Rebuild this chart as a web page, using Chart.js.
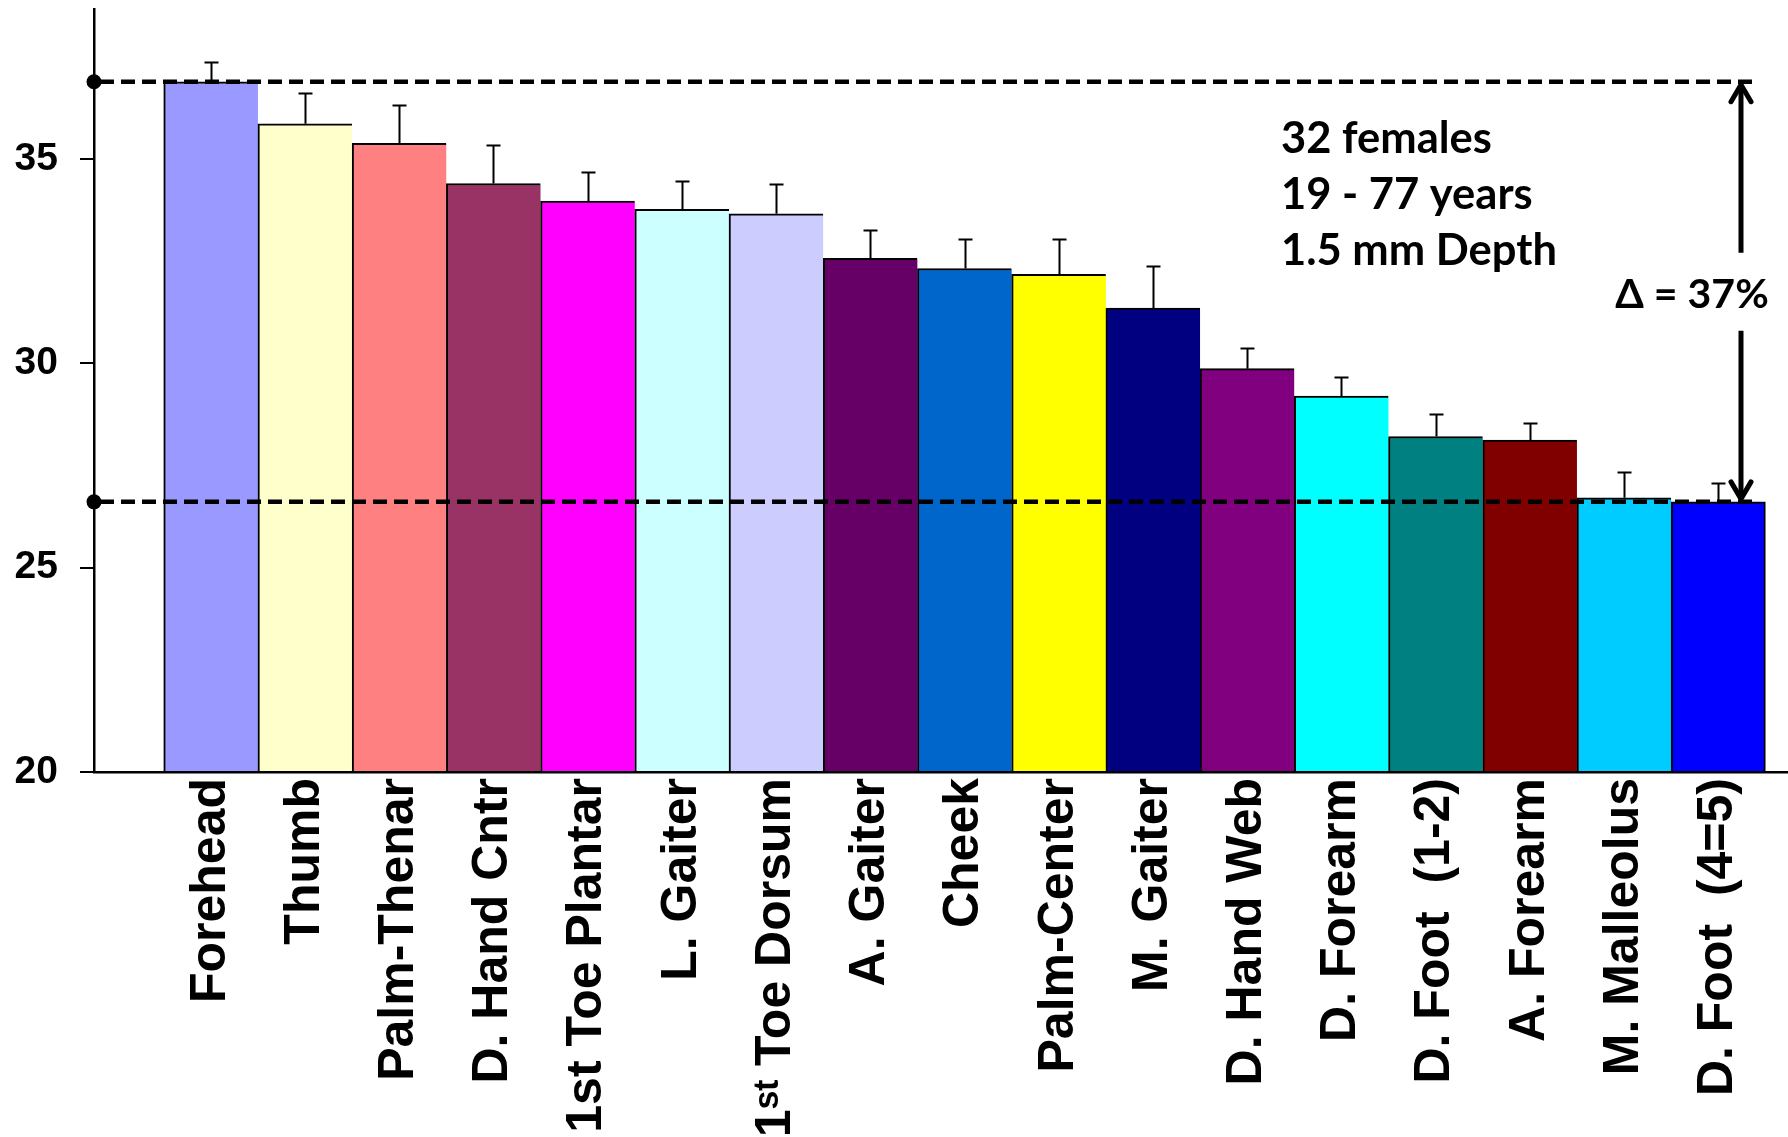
<!DOCTYPE html>
<html>
<head>
<meta charset="utf-8">
<script src="https://cdn.jsdelivr.net/npm/chart.js@4.4.1/dist/chart.umd.min.js"></script>
<style>
  html, body { margin: 0; padding: 0; background: #fff; overflow: hidden; }
  canvas { display: block; }
</style>
</head>
<body>
<canvas id="c" width="1788" height="1137"></canvas>
<script>
// Measurement sites, sorted from highest to lowest mean value
const sites = [
  'Forehead', 'Thumb', 'Palm-Thenar', 'D. Hand Cntr', '1st Toe Plantar',
  'L. Gaiter', '1\u02E2\u1D57 Toe Dorsum', 'A. Gaiter', 'Cheek', 'Palm-Center',
  'M. Gaiter', 'D. Hand Web', 'D. Forearm', 'D. Foot  (1-2)', 'A. Forearm',
  'M. Malleolus', 'D. Foot  (4=5)'
];
// Mean value per site
const meanValues = [
  36.89, 35.86, 35.38, 34.40, 33.97, 33.77, 33.66, 32.57, 32.32, 32.18,
  31.35, 29.87, 29.20, 28.21, 28.12, 26.71, 26.61
];
// Upper error (SEM) per site
const errorValues = [
  0.48, 0.76, 0.95, 0.93, 0.70, 0.70, 0.72, 0.70, 0.73, 0.87,
  1.03, 0.51, 0.47, 0.56, 0.41, 0.64, 0.46
];
const barColors = [
  '#9999FF', '#FFFFCC', '#FF8080', '#993366', '#FF00FF',
  '#CCFFFF', '#CCCCFF', '#660066', '#0066CC', '#FFFF00',
  '#000080', '#800080', '#00FFFF', '#008080', '#800000',
  '#00CCFF', '#0000FF'
];
const yTicks = [20, 25, 30, 35];
// Highest and lowest site means, marked with dashed reference lines
const rangeLevels = [36.89, 26.61];
const noteLines = ['32 females', '19 - 77 years', '1.5 mm Depth'];
const deltaLabel = '\u0394 = 37%';

// Axis extents (index axis includes room left of the first bar)
const X_MIN = -1.24, X_MAX = 16.74;
const Y_MIN = 20, Y_MAX = 38.67;

const labelFont = '"Liberation Sans", Arial, "DejaVu Sans", sans-serif';
const noteFont = 'Lato, "Open Sans", "DejaVu Sans", sans-serif';

function noPadding(s) {
  s.paddingLeft = 0; s.paddingRight = 0; s.paddingTop = 0; s.paddingBottom = 0;
}

// Upper-only error whiskers with caps
const errorBars = {
  id: 'errorBars',
  afterDatasetsDraw(chart) {
    const { ctx, scales: { x, y } } = chart;
    ctx.save();
    ctx.strokeStyle = '#000';
    ctx.lineWidth = 2;
    meanValues.forEach((v, i) => {
      const px = Math.round(x.getPixelForValue(i)) + 0.5;
      const y0 = y.getPixelForValue(v);
      const y1 = Math.round(y.getPixelForValue(v + errorValues[i])) + 0.5;
      ctx.beginPath();
      ctx.moveTo(px, y0);
      ctx.lineTo(px, y1);
      ctx.moveTo(px - 7, y1);
      ctx.lineTo(px + 7, y1);
      ctx.stroke();
    });
    ctx.restore();
  }
};

// Dashed range lines, double arrow, and text notes
const rangeMarks = {
  id: 'rangeMarks',
  afterDatasetsDraw(chart) {
    const { ctx, chartArea, scales: { y } } = chart;
    const left = chartArea.left;
    const lineEnd = chartArea.right - 33;
    const arrowX = chartArea.right - 47;
    const yTop = y.getPixelForValue(rangeLevels[0]);
    const yBot = y.getPixelForValue(rangeLevels[1]);
    const mid = (yTop + yBot) / 2;

    ctx.save();
    ctx.strokeStyle = '#000';
    ctx.fillStyle = '#000';

    // dashed lines
    ctx.lineWidth = 4.5;
    ctx.setLineDash([14, 7]);
    [yTop, yBot].forEach(py => {
      ctx.beginPath();
      ctx.moveTo(left + 6, py);
      ctx.lineTo(lineEnd, py);
      ctx.stroke();
    });
    ctx.setLineDash([]);

    // dots on the value axis
    [yTop, yBot].forEach(py => {
      ctx.beginPath();
      ctx.arc(left, py, 7.5, 0, Math.PI * 2);
      ctx.fill();
    });

    // double arrow with a gap for the label
    ctx.lineWidth = 5;
    ctx.lineCap = 'butt';
    ctx.beginPath();
    ctx.moveTo(arrowX, yTop + 3);
    ctx.lineTo(arrowX, mid - 39);
    ctx.moveTo(arrowX, mid + 39);
    ctx.lineTo(arrowX, yBot - 3);
    ctx.stroke();
    ctx.lineCap = 'round';
    ctx.lineJoin = 'round';
    ctx.beginPath();
    ctx.moveTo(arrowX - 10, yTop + 20);
    ctx.lineTo(arrowX, yTop + 3);
    ctx.lineTo(arrowX + 10, yTop + 20);
    ctx.moveTo(arrowX - 10, yBot - 20);
    ctx.lineTo(arrowX, yBot - 3);
    ctx.lineTo(arrowX + 10, yBot - 20);
    ctx.stroke();

    // delta label
    ctx.font = 'bold 41px ' + noteFont;
    ctx.textAlign = 'center';
    ctx.textBaseline = 'alphabetic';
    ctx.fillText(deltaLabel, arrowX - 49, mid + 16);

    // sample notes
    ctx.font = 'bold 43.5px ' + noteFont;
    ctx.textAlign = 'left';
    noteLines.forEach((t, i) => {
      ctx.fillText(t, 1281, 153 + i * 56);
    });
    ctx.restore();
  }
};

new Chart(document.getElementById('c'), {
  type: 'bar',
  data: {
    datasets: [{
      data: meanValues.map((v, i) => ({ x: i, y: v })),
      backgroundColor: barColors,
      borderColor: '#000',
      borderWidth: (c) => ({
        top: 2, left: 2, bottom: 0,
        right: c.dataIndex === meanValues.length - 1 ? 2 : 0
      }),
      borderSkipped: false,
      categoryPercentage: 1,
      barPercentage: 1
    }]
  },
  options: {
    responsive: false,
    animation: false,
    devicePixelRatio: 1,
    layout: { padding: { top: 9, left: 0, right: 0, bottom: 0 } },
    plugins: { legend: { display: false }, tooltip: { enabled: false } },
    scales: {
      x: {
        type: 'linear',
        offset: false,
        min: X_MIN,
        max: X_MAX,
        afterBuildTicks: (s) => { s.ticks = sites.map((_, i) => ({ value: i })); },
        afterFit: (s) => { s.height = 365; noPadding(s); },
        grid: { display: false, drawTicks: false, offset: false },
        border: { display: true, color: '#000', width: 2.5, z: 1 },
        ticks: {
          autoSkip: false,
          minRotation: 90,
          maxRotation: 90,
          padding: 6,
          color: '#000',
          font: { family: labelFont, weight: 'bold', size: 50 },
          callback: (v) => sites[v]
        }
      },
      y: {
        min: Y_MIN,
        max: Y_MAX,
        afterBuildTicks: (s) => { s.ticks = yTicks.map(v => ({ value: v })); },
        afterFit: (s) => { s.width = 94; noPadding(s); },
        grid: { display: true, drawOnChartArea: false, drawTicks: true, tickLength: 14, color: '#000', lineWidth: 2 },
        border: { display: true, color: '#000', width: 2.5, z: 1 },
        ticks: {
          padding: 22,
          color: '#000',
          font: { family: labelFont, weight: 'bold', size: 39 }
        }
      }
    }
  },
  plugins: [errorBars, rangeMarks]
});
</script>
</body>
</html>
